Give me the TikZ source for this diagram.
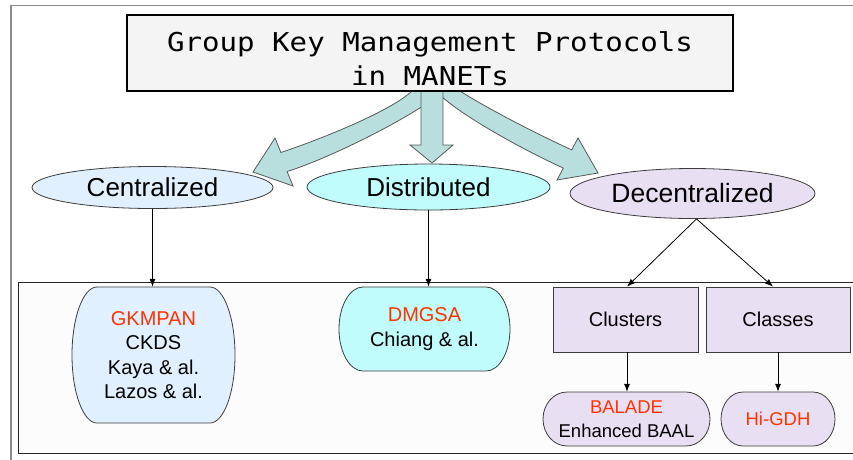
\documentclass[tikz,border=0pt]{standalone}
\usepackage{fontspec}
\setmainfont{Liberation Sans}
\newfontfamily\titlefont{DejaVu Sans Mono}[FakeStretch=1.12]
\usetikzlibrary{shapes.geometric,arrows.meta}
\definecolor{cblue}{RGB}{224,240,255}
\definecolor{ccyan}{RGB}{192,252,252}
\definecolor{clav}{RGB}{232,224,242}
\definecolor{cteal}{RGB}{184,222,222}
\definecolor{kred}{RGB}{255,51,0}
\definecolor{titlefill}{RGB}{244,244,244}
\definecolor{framefill}{RGB}{252,252,252}
\definecolor{edge}{RGB}{60,60,60}
\newcommand{\mystadium}[6]{%
  \draw[#6] ({#1+#5},#2) -- ({#3-#5},#2)
    .. controls ({#3-#5+0.5523*#5},#2) and (#3,{(#2+#4)/2-0.5523*(#4-#2)/2}) .. (#3,{(#2+#4)/2})
    .. controls (#3,{(#2+#4)/2+0.5523*(#4-#2)/2}) and ({#3-#5+0.5523*#5},#4) .. ({#3-#5},#4)
    -- ({#1+#5},#4)
    .. controls ({#1+#5-0.5523*#5},#4) and (#1,{(#2+#4)/2+0.5523*(#4-#2)/2}) .. (#1,{(#2+#4)/2})
    .. controls (#1,{(#2+#4)/2-0.5523*(#4-#2)/2}) and ({#1+#5-0.5523*#5},#2) .. ({#1+#5},#2) -- cycle;}
\begin{document}
\begin{tikzpicture}[x=1pt,y=-1pt,
  ell/.style={ellipse, draw=edge, line width=0.8pt, inner sep=0pt, font=\fontsize{26}{30}\selectfont},
  bigarrow/.style={fill=cteal, draw=edge!85, line width=0.8pt, line join=miter},
  lowtext/.style={rectangle, inner sep=0pt, align=center, font=\fontsize{20}{24.5}\selectfont},
  smalltext/.style={rectangle, inner sep=0pt, align=center, font=\fontsize{18.5}{24}\selectfont},
  conn/.style={draw=black, line width=0.8pt, -{Latex[length=8pt,width=6pt]}},
  sbox/.style={draw=edge, line width=0.8pt}]
\useasboundingbox (0,0) rectangle (853,459);
% outer frame
\draw[draw=gray!90, line width=1.5pt] (11,470) -- (11,5.5) -- (870,5.5);
% lower frame
\draw[fill=framefill, draw=black!85, line width=0.8pt] (18,282) rectangle (870,453);
% ellipses
\node[ell, fill=cblue, minimum width=241pt, minimum height=42pt] (cen) at (152.5,187.5) {Centralized};
\node[ell, fill=ccyan, minimum width=243pt, minimum height=46pt] (dis) at (428.5,187) {Distributed};
\node[ell, fill=clav, minimum width=245pt, minimum height=50pt, font=\fontsize{26.5}{30}\selectfont] (dec) at (692.5,193.5) {Decentralized};
% big arrows
\draw[bigarrow] (412,91) .. controls (392,110) and (328,136.6) .. (280.9,152.5) -- (275,138) -- (253,172) -- (293,186) -- (287.1,171.5) .. controls (334.7,156.6) and (421,112) .. (443,91) -- cycle;
\draw[bigarrow] (460,91) .. controls (480,104) and (526.3,129) .. (571.7,149.9) -- (578,138) -- (598,173) -- (557,180) -- (563.3,168.1) .. controls (517.9,147.2) and (455,112) .. (436,91) -- cycle;
\draw[bigarrow] (421,91) -- (421,145) -- (410,145) -- (432,163) -- (453,145) -- (443,145) -- (443,91) -- cycle;
% title
\node[draw=black, line width=1.5pt, fill=titlefill, minimum width=606pt, minimum height=76pt, inner sep=0pt, align=center,
  font=\titlefont\fontsize{26}{34}\selectfont, text height=64pt, text depth=0pt] (title) at (430,53)
  {Group Key Management Protocols\\in MANETs};
% lower shapes
\mystadium{72}{287}{235}{423}{25}{sbox, fill=cblue}
\node[lowtext, minimum width=163pt, minimum height=136pt] (gk) at (153.5,355)
  {\textcolor{kred}{GKMPAN}\\CKDS\\Kaya \& al.\\Lazos \& al.};
\mystadium{339}{287}{510}{371}{24}{sbox, fill=ccyan}
\node[lowtext, minimum width=171pt, minimum height=84pt] (dm) at (424.5,329)
  {\textcolor{kred}{DMGSA}\\Chiang \& al.};
\node[lowtext, draw=edge, fill=clav, line width=0.8pt, minimum width=145pt, minimum height=65pt] (clu) at (625.5,319.5) {Clusters};
\node[lowtext, draw=edge, fill=clav, line width=0.8pt, minimum width=144pt, minimum height=65pt] (cla) at (778,319.5) {Classes};
\mystadium{543}{392}{710}{446}{24}{sbox, fill=clav}
\node[smalltext, minimum width=167pt, minimum height=54pt] (bal) at (626.5,419)
  {\textcolor{kred}{BALADE}\\Enhanced BAAL};
\mystadium{721}{392}{835}{446}{22}{sbox, fill=clav}
\node[smalltext, minimum width=114pt, minimum height=54pt, text=kred] (hi) at (778,419) {Hi-GDH};
% connectors
\draw[conn] (cen.south) -- (cen.south |- gk.north);
\draw[conn] (dis.south) -- (dis.south |- dm.north);
\coordinate (decb) at ([xshift=4pt]dec.south);
\draw[conn] (decb) -- ([xshift=1.5pt]clu.north);
\draw[conn] (decb) -- ([xshift=-5pt]cla.north);
\draw[conn] ([xshift=1.5pt]clu.south) -- ([xshift=1.5pt]clu.south |- bal.north);
\draw[conn] (cla.south) -- (cla.south |- hi.north);
\end{tikzpicture}
\end{document}
